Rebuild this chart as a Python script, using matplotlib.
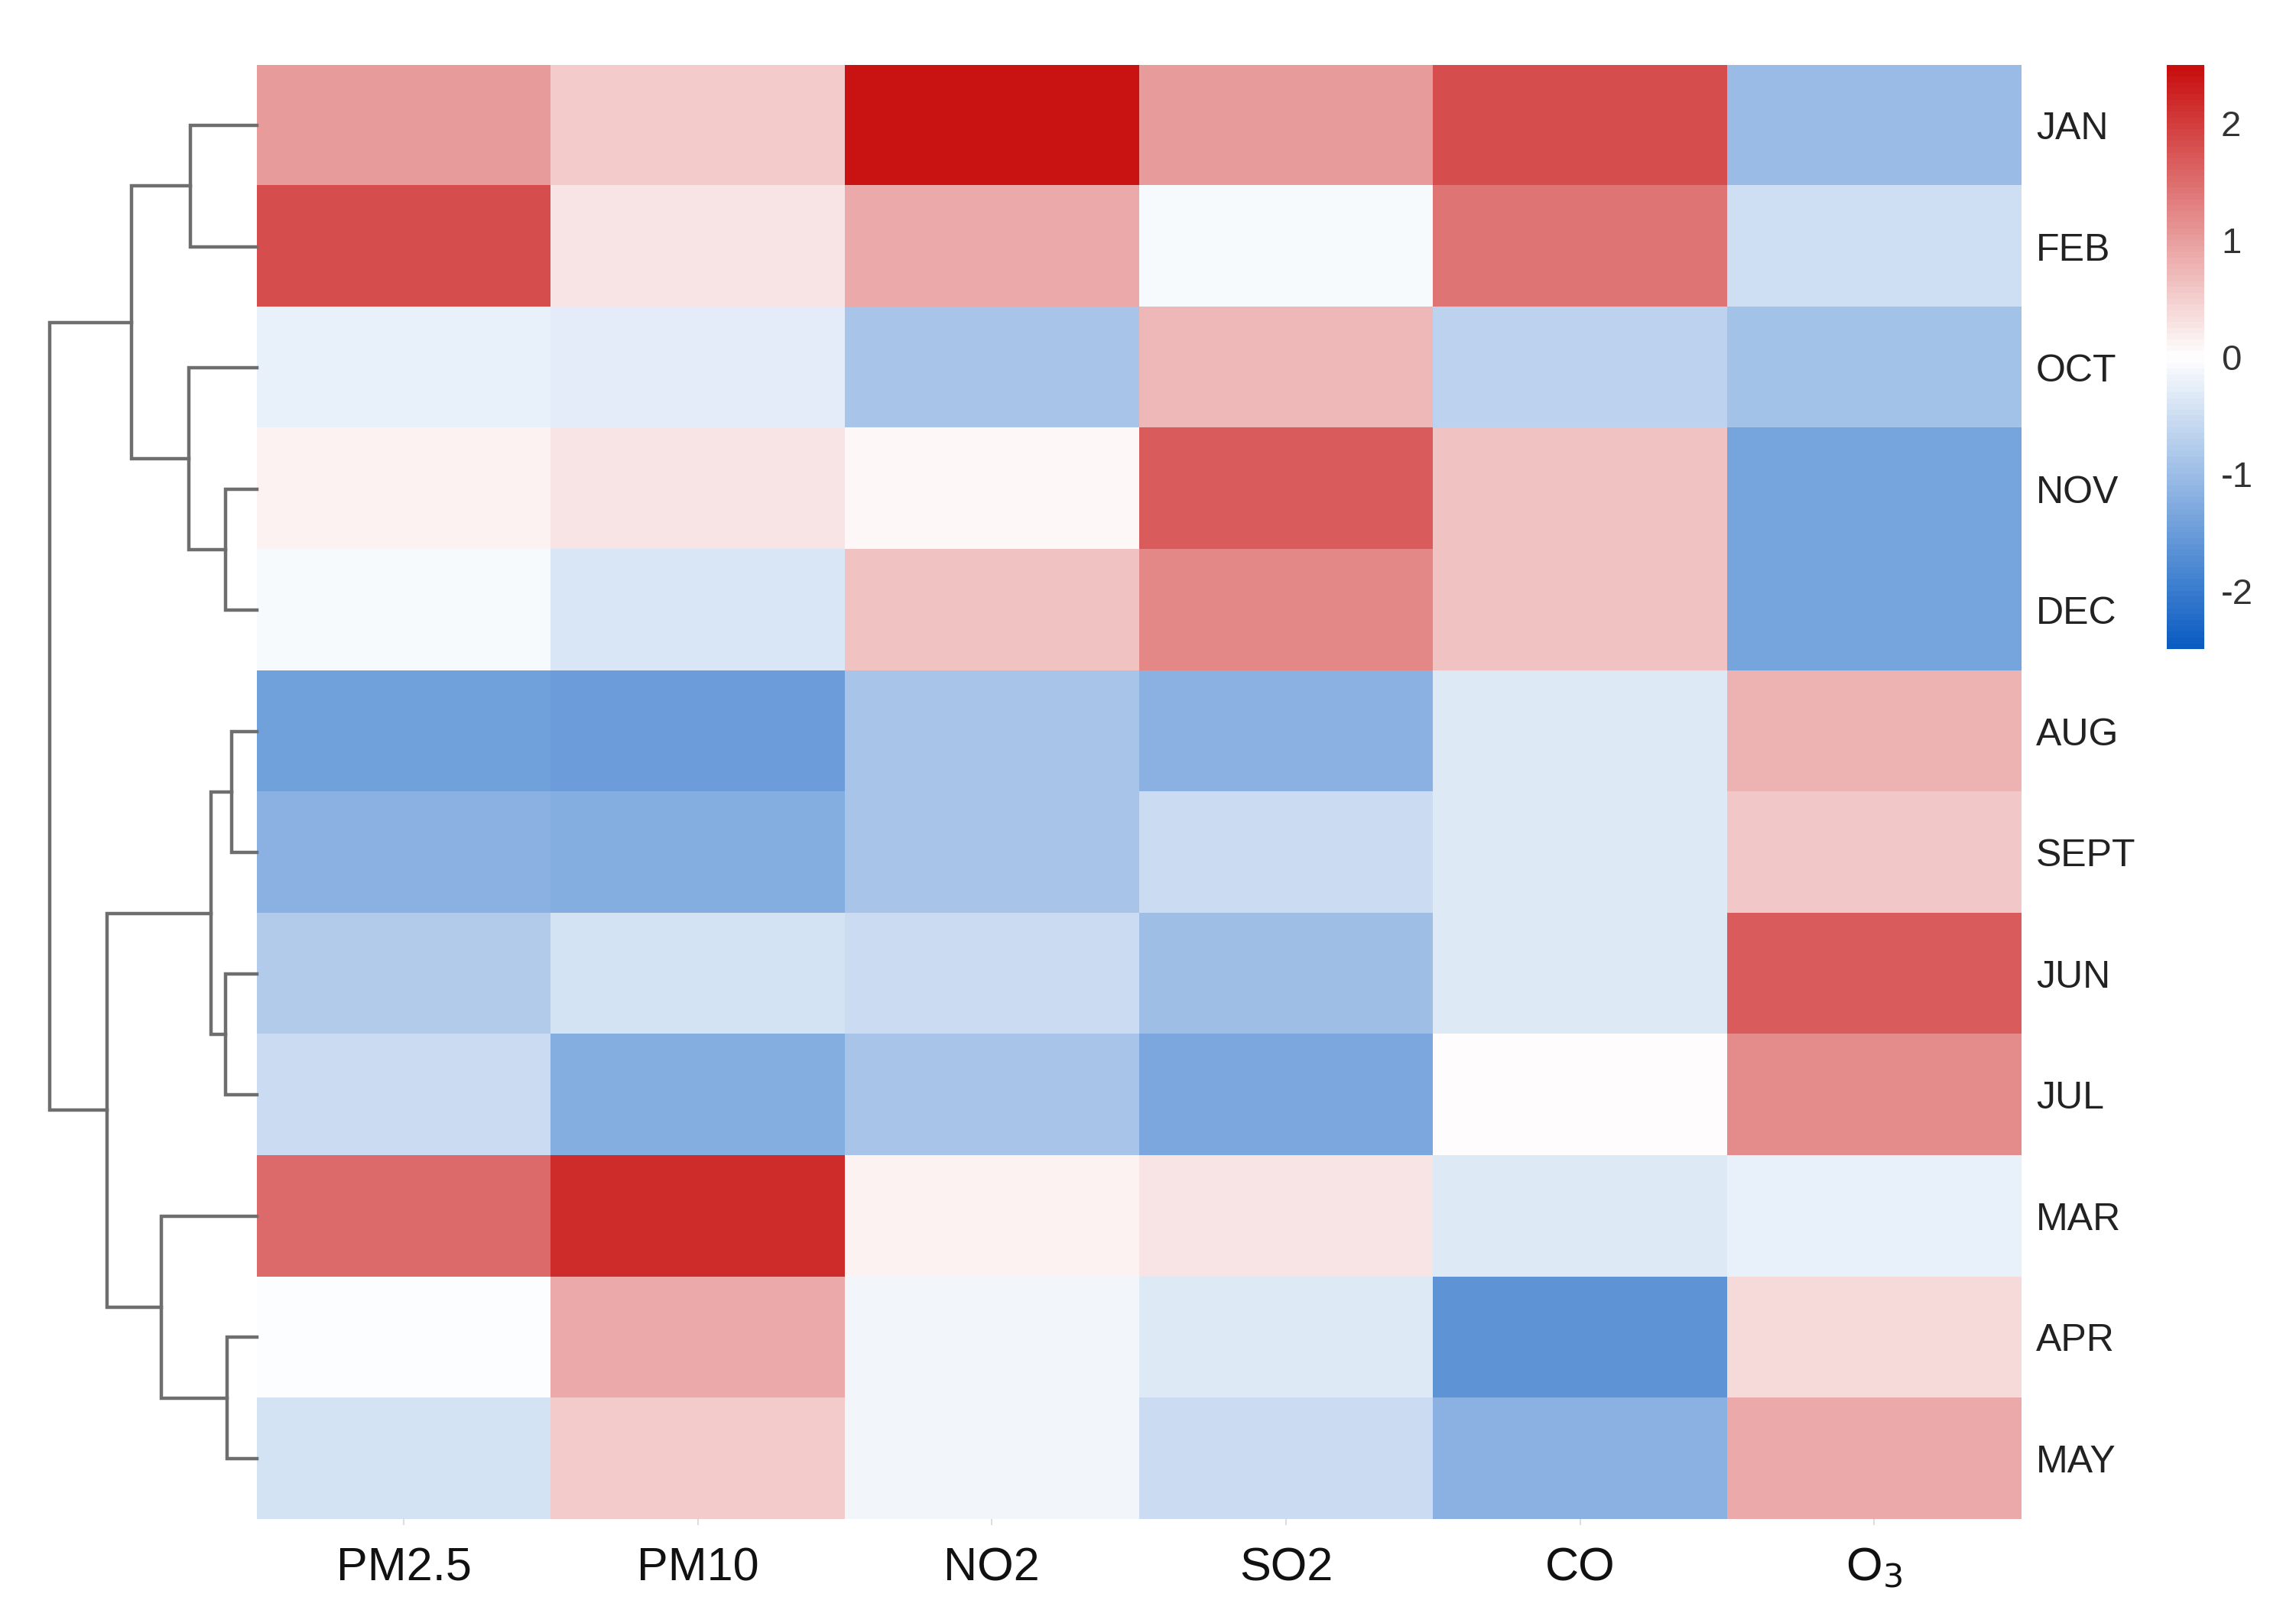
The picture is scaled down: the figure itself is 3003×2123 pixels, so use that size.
import numpy as np
import matplotlib
matplotlib.use("Agg")
import matplotlib.pyplot as plt
from matplotlib.colors import LinearSegmentedColormap

plt.rcParams['font.family'] = ['Liberation Sans', 'DejaVu Sans']
plt.rcParams['axes.unicode_minus'] = False

# rows in the order shown (after clustering)
months = ["JAN", "FEB", "OCT", "NOV", "DEC", "AUG", "SEPT", "JUN", "JUL", "MAR", "APR", "MAY"]
pollutants = ["PM2.5", "PM10", "NO2", "SO2", "CO", "O$_3$"]

# scaled values, one list per pollutant (same order as months)
pm25 = [1.00, 1.80, -0.25, 0.10, -0.10, -1.45, -1.17, -0.80, -0.55, 1.50, -0.03, -0.45]
pm10 = [0.50, 0.25, -0.30, 0.25, -0.40, -1.47, -1.22, -0.45, -1.22, 2.15, 0.85, 0.50]
no2 = [2.40, 0.85, -0.90, 0.08, 0.60, -0.90, -0.90, -0.55, -0.90, 0.12, -0.15, -0.15]
so2 = [1.00, -0.10, 0.70, 1.65, 1.20, -1.20, -0.55, -1.00, -1.35, 0.25, -0.35, -0.55]
co = [1.80, 1.40, -0.70, 0.60, 0.60, -0.35, -0.35, -0.35, 0.00, -0.35, -1.65, -1.20]
o3 = [-1.03, -0.50, -0.95, -1.36, -1.36, 0.75, 0.55, 1.65, 1.15, -0.25, 0.40, 0.85]

# row dendrogram: (left, right, height)
merges = [
    ("JAN", "FEB", 2.25),
    ("NOV", "DEC", 1.05),
    ("OCT", "NOV+DEC", 2.30),
    ("JAN+FEB", "OCT+NOV+DEC", 4.25),
    ("AUG", "SEPT", 0.85),
    ("JUN", "JUL", 1.05),
    ("AUG+SEPT", "JUN+JUL", 1.55),
    ("APR", "MAY", 1.00),
    ("MAR", "APR+MAY", 3.25),
    ("AUG+SEPT+JUN+JUL", "MAR+APR+MAY", 5.10),
    ("JAN+FEB+OCT+NOV+DEC", "AUG+SEPT+JUN+JUL+MAR+APR+MAY", 7.05),
]

data = np.array([pm25, pm10, no2, so2, co, o3]).T

cmap = LinearSegmentedColormap.from_list("bwr_ph", ["#0A5CC2", "#FFFFFF", "#C80E0E"], N=100)

fig = plt.figure(figsize=(30.03, 21.23), dpi=100)

ax = fig.add_axes([0.1118, 0.064, 0.7685, 0.896])
im = ax.imshow(data, cmap=cmap, vmin=-2.5, vmax=2.5, aspect="auto", interpolation="nearest")
ax.set_xticks(np.arange(len(pollutants)))
ax.set_xticklabels(pollutants, fontsize=44, color="#111111")
ax.tick_params(axis="x", length=6, width=1.5, color="#dddddd", pad=20)
ax.yaxis.tick_right()
ax.set_yticks(np.arange(len(months)))
ax.set_yticklabels(months, fontsize=36, color="#222222")
ax.tick_params(axis="y", length=0, pad=14)
for s in ax.spines.values():
    s.set_visible(False)

# dendrogram
axd = fig.add_axes([0.0215, 0.064, 0.0903, 0.896])
pos = {m: i for i, m in enumerate(months)}
for left, right, h in merges:
    yl, yr = pos[left], pos[right]
    hl = next((mh for a, b, mh in merges if a + "+" + b == left), 0)
    hr = next((mh for a, b, mh in merges if a + "+" + b == right), 0)
    axd.plot([hl, h, h, hr], [yl, yl, yr, yr], color="#6e6e6e", lw=3.2,
             solid_joinstyle="miter", clip_on=False)
    pos[left + "+" + right] = (yl + yr) / 2
axd.set_xlim(7.05, 0)
axd.set_ylim(len(months) - 0.5, -0.5)
axd.axis("off")

# colour bar
cax = fig.add_axes([0.9438, 0.600, 0.0162, 0.360])
cb = fig.colorbar(im, cax=cax, ticks=[-2, -1, 0, 1, 2])
cb.outline.set_visible(False)
cb.ax.tick_params(length=0, labelsize=34, labelcolor="#333333", pad=16)

fig.savefig("out.png", dpi=100, facecolor="white")
